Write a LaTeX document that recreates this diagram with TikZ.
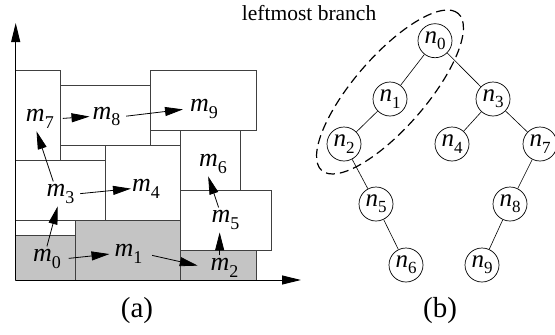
\documentclass[tikz,border=0pt]{standalone}
\usepackage{fontspec}
\setmainfont{Liberation Serif}
\usetikzlibrary{arrows.meta,calc}

% italic letter with an upright, lowered index
\newcommand\ilab[3][18]{\textit{#2}\raisebox{-0.25em}{\fontsize{#1}{#1}\selectfont #3}}

\begin{document}
\begin{tikzpicture}[x=1pt,y=-1pt,
  box/.style={draw=black!75, line width=0.8pt},
  shaded/.style={box, fill=black!23},
  lab/.style={anchor=base west, inner sep=3pt, outer sep=0pt, font=\fontsize{26}{26}\selectfont},
  push/.style={-{Triangle[length=18pt,width=9pt]}, line width=0.8pt},
  axis/.style={-{Triangle[length=19pt,width=9pt]}, line width=0.9pt},
  tnode/.style={circle, draw, line width=0.7pt, minimum size=34pt, inner sep=0pt,
                font=\fontsize{25}{25}\selectfont},
  link/.style={line width=0.6pt},
  caption/.style={font=\fontsize{29}{29}\selectfont}]

\useasboundingbox (0,0) rectangle (555,335);

% ---- (a) placement of the modules ----
\draw[shaded] (15.7,235) rectangle (75.7,280);
\draw[box]    (15.7,220) rectangle (75.7,235);
\draw[shaded] (75.7,220) rectangle (180.7,280);
\draw[shaded] (180.7,250) rectangle (256,280);
\draw[box] (15.7,160) rectangle (105.7,220);
\draw[box] (105.7,145) rectangle (180.7,220);
\draw[box] (180.7,190) rectangle (271,250);
\draw[box] (180.7,130) rectangle (240.7,190);
\draw[box] (15.7,70) rectangle (60.7,160);
\draw[box] (60.7,85) rectangle (150.7,145);
\draw[box] (150.7,70) rectangle (256,130);

% axes
\coordinate (origin) at (15.7,280);
\coordinate (ytip) at (15.7,23);
\coordinate (xtip) at (301,280);
\draw[axis] (origin) -- (ytip);
\draw[axis] (origin) -- (xtip);

% module labels
\node[lab] (m0) at (30,261.7) {\ilab{m}{0}};
\node[lab] (m1) at (111.5,256.7) {\ilab{m}{1}};
\node[lab] (m2) at (207.5,270.7) {\ilab{m}{2}};
\node[lab] (m3) at (43.5,196.7) {\ilab{m}{3}};
\node[lab] (m4) at (129,191.7) {\ilab{m}{4}};
\node[lab] (m5) at (208.5,222.7) {\ilab{m}{5}};
\node[lab] (m6) at (196,166.7) {\ilab{m}{6}};
\node[lab] (m7) at (23,121.7) {\ilab{m}{7}};
\node[lab] (m8) at (89.5,119.3) {\ilab{m}{8}};
\node[lab] (m9) at (187,111.7) {\ilab{m}{9}};

% order of the modules
\draw[push] ($(m0.north west)!0.5!(m0.north east)$) -- ($(m3.south west)!0.42!(m3.south east)$);
\draw[push, shorten <=5pt, shorten >=2pt] (m0.east) -- (m1.west);
\draw[push, shorten <=7pt, shorten >=10pt] (m1.east) -- (m2.west);
\coordinate (m2top) at ($(m2.north west)!0.36!(m2.north east)$);
\draw[push] (m2top) -- (m2top |- m5.south);
\draw[push] ($(m5.north west)!0.3!(m5.north east)$) -- ($(m6.south west)!0.36!(m6.south east)$);
\draw[push, shorten <=3pt, shorten >=-2pt] (m3.east) -- (m4.west);
\draw[push] ($(m3.north west)!0.29!(m3.north east)$) -- ($(m7.south west)!0.4!(m7.south east)$);
\draw[push, shorten <=6pt] (m7.east) -- (m8.west);
\draw[push, shorten <=3pt, shorten >=4pt] (m8.east) -- (m9.west);

\node[caption] (capa) at (137,311) {(a)};

% ---- (b) the B*-tree ----
\node[tnode] (n0) at (435,40.7) {\ilab[17]{n}{0}};
\node[tnode] (n1) at (390,99) {\ilab[17]{n}{1}};
\node[tnode] (n2) at (344,144) {\ilab[17]{n}{2}};
\node[tnode] (n3) at (493,99) {\ilab[17]{n}{3}};
\node[tnode] (n4) at (452,144) {\ilab[17]{n}{4}};
\node[tnode] (n7) at (540,144) {\ilab[17]{n}{7}};
\node[tnode] (n5) at (376,204) {\ilab[17]{n}{5}};
\node[tnode] (n8) at (510,204) {\ilab[17]{n}{8}};
\node[tnode] (n6) at (406,265) {\ilab[17]{n}{6}};
\node[tnode] (n9) at (482,265) {\ilab[17]{n}{9}};

\draw[link] (n0) -- (n1);
\draw[link] (n1) -- (n2);
\draw[link] (n0) -- (n3);
\draw[link] (n3) -- (n4);
\draw[link] (n3) -- (n7);
\draw[link] (n2) -- (n5);
\draw[link] (n5) -- (n6);
\draw[link] (n7) -- (n8);
\draw[link] (n8) -- (n9);

% the leftmost branch
\draw[line width=1.2pt, dash pattern=on 9pt off 5pt, rotate around={49:(390,92)}]
  (390,92) ellipse [x radius=104pt, y radius=36pt];
\node[anchor=base west, inner sep=0pt, font=\fontsize{21.5}{21.5}\selectfont] (branch) at (241.7,20) {leftmost branch};

\node[caption] (capb) at (440,311) {(b)};
\end{tikzpicture}
\end{document}
